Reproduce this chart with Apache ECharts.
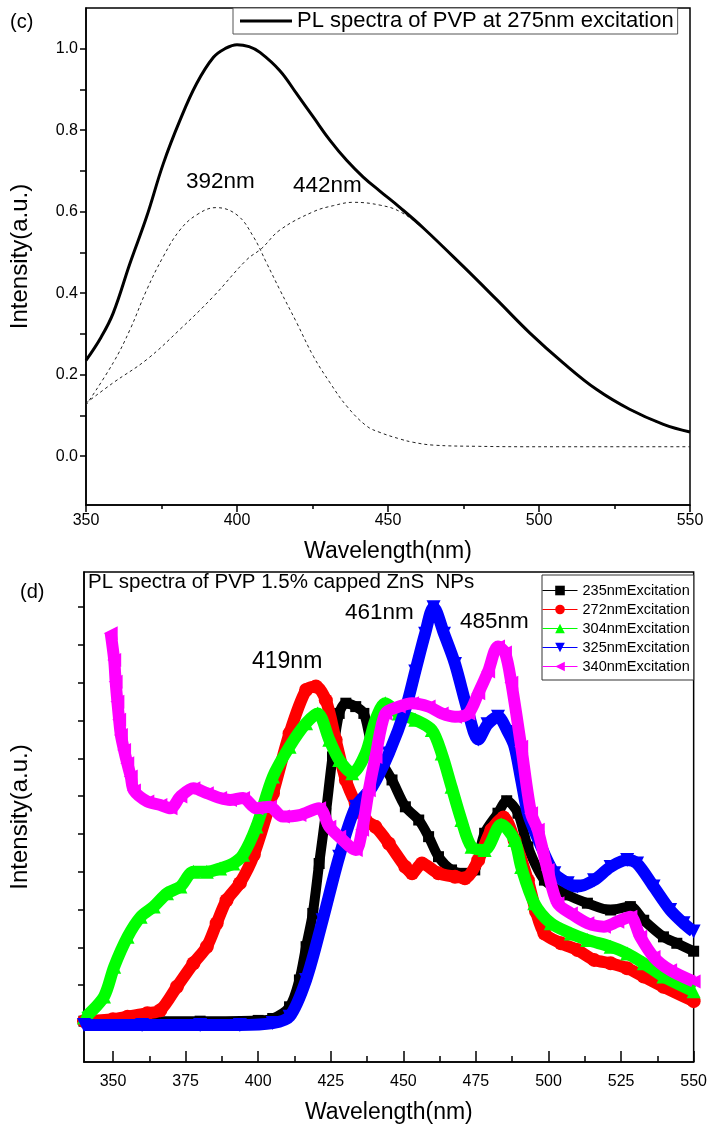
<!DOCTYPE html>
<html><head><meta charset="utf-8">
<script src="https://cdn.jsdelivr.net/npm/echarts@6/dist/echarts.min.js"></script>
<style>html,body{margin:0;padding:0;background:#fff}#c{width:710px;height:1127px}</style>
</head><body><div id="c"></div>
<script>
const FONT = '"Liberation Sans", Arial, sans-serif';

// ---------- Panel (c): PL spectra of PVP ----------
const pvpTotal = [[350,0.235],[355,0.292],[359,0.351],[364.6,0.474],[370.1,0.588],[375.6,0.718],[381.1,0.824],[386.6,0.914],[392.2,0.979],[396,1.0],[400,1.010],[404,1.005],[407.6,0.991],[414.2,0.946],[419.8,0.889],[425.3,0.832],[430.8,0.775],[436.3,0.726],[441.8,0.685],[447.4,0.650],[454,0.610],[461.7,0.560],[475,0.465],[486,0.384],[497,0.302],[508,0.229],[519,0.164],[530,0.115],[541.2,0.078],[550,0.059]];
const fit392 = [[350,0.125],[359,0.229],[364.6,0.311],[370.1,0.408],[375.6,0.49],[381.1,0.555],[386.6,0.592],[393,0.61],[400,0.592],[405.4,0.539],[409.8,0.474],[414.2,0.408],[419.8,0.327],[425.3,0.245],[430.8,0.18],[436.3,0.123],[442.9,0.074],[447.4,0.058],[454,0.042],[458.3,0.034],[465,0.027],[480,0.024],[500,0.023],[550,0.023]];
const fit442 = [[350,0.13],[359,0.18],[370.1,0.237],[381.1,0.311],[392.2,0.392],[403.2,0.482],[408.2,0.51],[414.2,0.555],[425.3,0.6],[432,0.615],[438.5,0.623],[447.4,0.616],[454,0.600],[461.7,0.558],[475,0.464],[486,0.383],[497,0.301],[508,0.228],[519,0.163],[530,0.114],[541.2,0.077],[550,0.058]];
const cYLabels = [0,0.2,0.4,0.6,0.8,1.0];
const cYTicks = [0,0.1,0.2,0.3,0.4,0.5,0.6,0.7,0.8,0.9,1.0];

// ---------- Panel (d): PL spectra of PVP 1.5% capped ZnS NPs ----------
const ex235 = [[340,0.05],[360,0.05],[380,0.05],[400,0.07],[405,0.12],[410.8,0.43],[414.2,1.14],[416.5,2.02],[418.8,2.90],[421,4.22],[423.3,5.55],[425.6,7.04],[427.9,8.19],[430.2,8.46],[433.6,8.37],[436.4,8.19],[439.3,7.31],[442.7,6.87],[446.1,6.43],[450.7,5.72],[455.3,5.37],[458.7,4.93],[462.1,4.40],[466.6,4.05],[471.2,3.96],[474.6,4.05],[478,5.02],[482.6,5.55],[485.6,5.88],[489.5,5.55],[492.9,4.66],[498.6,3.78],[506.6,3.39],[513.4,3.17],[521.4,2.99],[528.2,3.08],[532.8,2.72],[539.6,2.28],[544.2,2.11],[550,1.90]];
const ex272 = [[340,0.05],[350,0.1],[355,0.17],[361.8,0.26],[366.3,0.34],[372,0.96],[377.7,1.58],[382.3,2.02],[385.7,2.64],[389.1,3.25],[393.7,3.70],[398.5,4.45],[405.1,6.08],[410.8,7.66],[416.5,8.81],[419.9,8.90],[423.3,8.54],[426.7,7.49],[430.2,6.43],[433.6,5.81],[437,5.37],[440.4,5.19],[445,4.75],[450.7,4.13],[453,3.96],[456.4,4.22],[462.1,3.96],[467.8,3.87],[471.2,3.83],[475.8,4.31],[480.3,5.11],[484.5,5.44],[488.3,4.84],[492.9,3.78],[495.7,2.95],[498.6,2.37],[504.3,2.11],[510,1.93],[515.7,1.67],[521.4,1.58],[527.1,1.45],[532.8,1.23],[539.6,0.96],[550,0.58]];
const ex304 = [[340,0.15],[341.3,0.21],[346.9,0.70],[350.4,1.49],[355,2.28],[359.5,2.81],[364,3.08],[368.6,3.43],[373.2,3.61],[377.7,4.00],[382.3,4.00],[386.9,4.09],[391.4,4.22],[394.8,4.45],[399.4,5.2],[405.1,6.52],[410.8,7.31],[416.5,7.93],[420.5,8.19],[424.5,7.49],[427.9,6.96],[432.4,6.61],[437,7.13],[440.4,8.02],[443.8,8.46],[448.4,8.19],[454.1,8.02],[459.8,7.75],[463.2,7.13],[466.6,6.25],[470,5.37],[473.5,4.66],[478,4.58],[483.7,5.25],[488.3,4.84],[490.6,4.13],[495.1,3.17],[500.8,2.64],[507.7,2.37],[513.4,2.20],[521.4,2.02],[527.1,1.84],[532.8,1.58],[539.6,1.23],[550,0.84]];
const ex325 = [[340,-0.05],[360,-0.05],[380,-0.05],[393.7,-0.05],[405,0.0],[410.8,0.17],[416.5,1.14],[422.2,2.72],[427.9,4.40],[433.6,5.72],[439.3,6.25],[445,7.13],[450.7,8.3],[454.1,9.3],[457.5,10.3],[460.4,11.0],[464,10.3],[467.8,9.5],[472.4,8.2],[475.8,7.5],[479,7.9],[482.6,8.1],[486,7.7],[488.3,7.31],[490.6,6.43],[492.9,5.55],[496.3,4.88],[502,3.96],[506.6,3.70],[510,3.61],[515.7,3.78],[521.4,4.13],[527.1,4.31],[530.5,4.22],[536.2,3.61],[541.9,2.99],[546.5,2.64],[550,2.42]];
const ex340 = [[349.2,10.31],[350.4,9.60],[350.9,9.03],[351.5,8.50],[352.1,8.02],[352.7,7.62],[353.8,7.22],[354.9,6.87],[356.1,6.52],[357.2,6.15],[361.8,5.86],[366.3,5.77],[369.8,5.68],[373.2,5.99],[377.7,6.21],[382.3,6.08],[386.9,5.95],[390.3,5.90],[394.8,5.95],[399.4,5.68],[404,5.72],[408.5,5.46],[414.2,5.50],[421,5.68],[424.5,5.19],[427.9,4.93],[433.6,4.58],[435.8,5.11],[438.1,6.16],[440.4,7.04],[443.8,8.19],[448.4,8.37],[453,8.46],[458.7,8.37],[463.2,8.19],[467.8,8.10],[472.4,8.19],[475.8,8.72],[479.2,9.3],[482.6,9.96],[485,9.8],[487.2,9.0],[490.6,7.31],[494,5.55],[496.3,5.11],[499.7,4.05],[503.1,3.17],[507.7,2.90],[513.4,2.64],[519.1,2.55],[523.7,2.68],[528.2,2.81],[531.6,2.28],[536.2,1.75],[541.9,1.40],[550,1.10]];
const dXLabels = [350,375,400,425,450,475,500,525,550];
const dXMinor = [362.5,387.5,412.5,437.5,462.5,487.5,512.5,537.5];
const dYTicks = [0,1,2,3,4,5,6,7,8,9,10,11];

const dNames = ['235nmExcitation','272nmExcitation','304nmExcitation','325nmExcitation','340nmExcitation'];
const dColors = ['#000000','#ff0000','#00ff00','#0000ff','#ff00ff'];
const dSymbols = ['rect','circle','triangle','path://M0,0L2,0L1,1.8Z','path://M1.8,0L1.8,2L0,1Z'];
const dSizes = [11,14,14,14,14];
const dWidths = [10,12,12,12,12];
const dData = [ex235, ex272, ex304, ex325, ex340];

const chart = echarts.init(document.getElementById('c'));
const axisTxt = {color:'#000', fontFamily:FONT, fontSize:16};
const nameTxt = {color:'#000', fontFamily:FONT, fontSize:23};

const dSeries = dNames.map((n,i)=>({
  name:n, type:'line', xAxisIndex:1, yAxisIndex:1, data:dData[i],
  smooth:0.3, symbol:dSymbols[i], symbolSize:dSizes[i], showSymbol:true, showAllSymbol:true,
  itemStyle:{color:dColors[i]}, lineStyle:{color:dColors[i], width:dWidths[i]}, z:2+i
}));

chart.setOption({
  animation:false,
  backgroundColor:'#fff',
  textStyle:{fontFamily:FONT},
  grid:[
    {left:86, top:8, width:604, height:497, show:true, borderColor:'#000', borderWidth:1.5},
    {left:83, top:572, width:614, height:490, show:true, borderColor:'#000', borderWidth:1.5}
  ],
  xAxis:[
    {type:'value', gridIndex:0, min:350, max:550, interval:50,
     name:'Wavelength(nm)', nameLocation:'middle', nameGap:35, nameTextStyle:nameTxt,
     axisLine:{onZero:false, lineStyle:{color:'#000', width:1.5}},
     axisTick:{inside:false, length:7, lineStyle:{color:'#000', width:1.5}},
     minorTick:{show:true, splitNumber:2, length:4, lineStyle:{color:'#000', width:1.5}},
     axisLabel:{...axisTxt, margin:8}, splitLine:{show:false}},
    {type:'value', gridIndex:1, min:340, max:550,
     name:'Wavelength(nm)', nameLocation:'middle', nameGap:39, nameTextStyle:nameTxt,
     axisLine:{onZero:false, lineStyle:{color:'#000', width:1.5}},
     axisTick:{inside:true, length:11, customValues:dXLabels, lineStyle:{color:'#000', width:1.5}},
     axisLabel:{...axisTxt, margin:12, customValues:dXLabels}, splitLine:{show:false}},
    {type:'value', gridIndex:1, min:340, max:550, position:'bottom',
     axisLine:{show:false, onZero:false},
     axisTick:{inside:true, length:6, customValues:dXMinor, lineStyle:{color:'#000', width:1.5}},
     axisLabel:{show:false}, splitLine:{show:false}}
  ],
  yAxis:[
    {type:'value', gridIndex:0, min:-0.12, max:1.1,
     name:'Intensity(a.u.)', nameLocation:'middle', nameGap:54, nameTextStyle:{...nameTxt, fontSize:24},
     axisLine:{show:true, onZero:false, lineStyle:{color:'#000', width:1.5}},
     axisTick:{show:true, inside:false, length:6, customValues:cYTicks, lineStyle:{color:'#000', width:1.5}},
     axisLabel:{...axisTxt, margin:8, customValues:cYLabels, formatter:v=>v.toFixed(1)}, splitLine:{show:false}},
    {type:'value', gridIndex:1, min:-1.03, max:11.93,
     name:'Intensity(a.u.)', nameLocation:'middle', nameGap:52, nameTextStyle:{...nameTxt, fontSize:24},
     axisLine:{show:true, onZero:false, lineStyle:{color:'#000', width:1.5}},
     axisTick:{show:true, inside:false, length:6, customValues:dYTicks, lineStyle:{color:'#000', width:1.5}},
     axisLabel:{show:false}, splitLine:{show:false}}
  ],
  legend:[
    {data:[{name:'PL spectra of PVP at 275nm excitation', icon:'rect'}], left:233, top:8, padding:[2,4,2,7],
     backgroundColor:'#fff', borderColor:'#555', borderWidth:1, itemWidth:52, itemHeight:3,
     selectedMode:false, textStyle:{color:'#000', fontFamily:FONT, fontSize:22}},
    {data:dNames, orient:'vertical', left:542, top:575, padding:[8,4,6,0], itemGap:4,
     backgroundColor:'#fff', borderColor:'#333', borderWidth:1, itemWidth:35, itemHeight:12,
     selectedMode:false, lineStyle:{width:1}, textStyle:{color:'#000', fontFamily:FONT, fontSize:14.5}}
  ],
  graphic:[
    {type:'text', left:10, top:12, style:{text:'(c)', font:'20px '+FONT, fill:'#000'}},
    {type:'text', left:186, top:170, style:{text:'392nm', font:'22.5px '+FONT, fill:'#000'}},
    {type:'text', left:293, top:174, style:{text:'442nm', font:'22.5px '+FONT, fill:'#000'}},
    {type:'text', left:20, top:582, style:{text:'(d)', font:'20px '+FONT, fill:'#000'}},
    {type:'text', left:88, top:572, style:{text:'PL spectra of PVP 1.5% capped ZnS  NPs', font:'20.5px '+FONT, fill:'#000'}},
    {type:'text', left:252, top:650, style:{text:'419nm', font:'23px '+FONT, fill:'#000'}, z:100},
    {type:'text', left:345, top:601, style:{text:'461nm', font:'22.5px '+FONT, fill:'#000'}, z:100},
    {type:'text', left:460, top:610, style:{text:'485nm', font:'22.5px '+FONT, fill:'#000'}, z:100}
  ],
  series:[
    {name:'fit392', type:'line', xAxisIndex:0, yAxisIndex:0, data:fit392, smooth:0.4, symbol:'none',
     lineStyle:{color:'#222', width:1, type:[3,3]}, z:2},
    {name:'fit442', type:'line', xAxisIndex:0, yAxisIndex:0, data:fit442, smooth:0.4, symbol:'none',
     lineStyle:{color:'#222', width:1, type:[3,3]}, z:2},
    {name:'PL spectra of PVP at 275nm excitation', type:'line', xAxisIndex:0, yAxisIndex:0, data:pvpTotal,
     smooth:0.4, symbol:'none', itemStyle:{color:'#000'}, lineStyle:{color:'#000', width:3}, z:3},
    ...dSeries
  ]
});
</script></body></html>
